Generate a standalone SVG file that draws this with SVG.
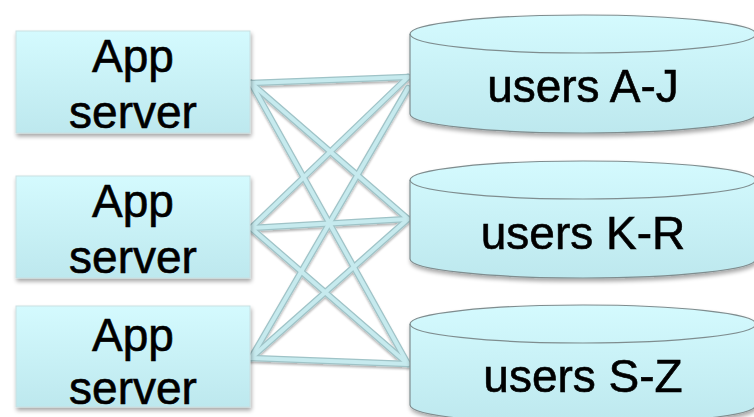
<svg xmlns="http://www.w3.org/2000/svg" width="754" height="417" viewBox="0 0 754 417">
<defs>
<linearGradient id="g" x1="0" y1="0" x2="0" y2="1">
<stop offset="0" stop-color="#d4fafe"/>
<stop offset="1" stop-color="#bde8ee"/>
</linearGradient>
<filter id="sh" x="-10%" y="-10%" width="125%" height="130%">
<feGaussianBlur in="SourceAlpha" stdDeviation="2"/>
<feOffset dx="1" dy="3"/>
<feComponentTransfer><feFuncA type="linear" slope="0.35"/></feComponentTransfer>
<feMerge><feMergeNode/><feMergeNode in="SourceGraphic"/></feMerge>
</filter>
<filter id="lsh" x="-10%" y="-10%" width="125%" height="130%">
<feGaussianBlur in="SourceAlpha" stdDeviation="1.2"/>
<feOffset dx="0" dy="1.5"/>
<feComponentTransfer><feFuncA type="linear" slope="0.3"/></feComponentTransfer>
<feMerge><feMergeNode/><feMergeNode in="SourceGraphic"/></feMerge>
</filter>
</defs>
<style>
.box{fill:url(#g);stroke:#c9dfe2;stroke-width:1;filter:url(#sh)}
.cyl{fill:url(#g);stroke:#7f8d8f;stroke-width:1.2}
.cylg{filter:url(#sh)}
.t{font-family:"Liberation Sans",Arial,sans-serif;font-size:46px;fill:#000;stroke:#000;stroke-width:0.6;text-anchor:middle}
.lo{stroke:#9fc3c7;stroke-width:6.5;stroke-linecap:round;fill:none}
.li{stroke:#c6eaee;stroke-width:4;stroke-linecap:round;fill:none}
</style>
<rect width="754" height="417" fill="#fff"/>
<g id="connectors" filter="url(#lsh)">
<g class="lo">
<line x1="251" y1="83" x2="408" y2="77"/>
<line x1="251" y1="83" x2="408" y2="219"/>
<line x1="251" y1="83" x2="408" y2="364"/>
<line x1="251" y1="228" x2="408" y2="77"/>
<line x1="251" y1="228" x2="408" y2="219"/>
<line x1="251" y1="228" x2="408" y2="364"/>
<line x1="251" y1="358" x2="408" y2="88"/>
<line x1="251" y1="358" x2="408" y2="219"/>
<line x1="251" y1="358" x2="408" y2="364"/>
</g>
<g class="li">
<line x1="251" y1="83" x2="408" y2="77"/>
<line x1="251" y1="83" x2="408" y2="219"/>
<line x1="251" y1="83" x2="408" y2="364"/>
<line x1="251" y1="228" x2="408" y2="77"/>
<line x1="251" y1="228" x2="408" y2="219"/>
<line x1="251" y1="228" x2="408" y2="364"/>
<line x1="251" y1="358" x2="408" y2="88"/>
<line x1="251" y1="358" x2="408" y2="219"/>
<line x1="251" y1="358" x2="408" y2="364"/>
</g>
</g>
<g id="app1">
<rect class="box" x="16" y="31" width="234" height="102"/>
<text class="t" x="133" y="72">App</text>
<text class="t" x="133" y="128">server</text>
</g>
<g id="app2">
<rect class="box" x="16" y="176" width="234" height="102"/>
<text class="t" x="133" y="217">App</text>
<text class="t" x="133" y="273">server</text>
</g>
<g id="app3">
<rect class="box" x="16" y="306" width="234" height="101"/>
<text class="t" x="133" y="351">App</text>
<text class="t" x="133" y="404">server</text>
</g>
<g id="db1" class="cylg">
<path class="cyl" d="M410,34 L410,114 A173,19 0 0 0 756,114 L756,34 A173,19 0 0 0 410,34 Z"/>
<path class="cyl" d="M410,34 A173,19 0 0 0 756,34" style="fill:none"/>
<text class="t" x="583" y="102">users A-J</text>
</g>
<g id="db2" class="cylg">
<path class="cyl" d="M410,180 L410,259 A173,19 0 0 0 756,259 L756,180 A173,19 0 0 0 410,180 Z"/>
<path class="cyl" d="M410,180 A173,19 0 0 0 756,180" style="fill:none"/>
<text class="t" x="583" y="249">users K-R</text>
</g>
<g id="db3" class="cylg">
<path class="cyl" d="M410,324 L410,405 A173,19 0 0 0 756,405 L756,324 A173,19 0 0 0 410,324 Z"/>
<path class="cyl" d="M410,324 A173,19 0 0 0 756,324" style="fill:none"/>
<text class="t" x="583" y="392">users S-Z</text>
</g>
</svg>
